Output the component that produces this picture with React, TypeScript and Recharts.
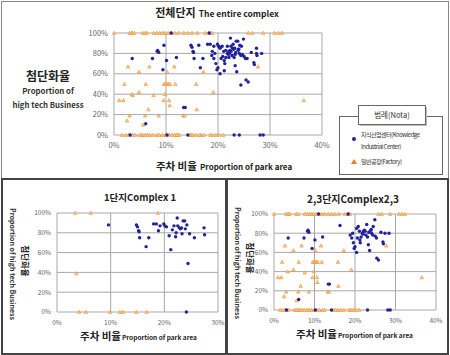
import { ScatterChart, Scatter, XAxis, YAxis, CartesianGrid } from "recharts";

// 1단지 (Complex 1): [parking %, high-tech %]
const c1Knowledge: number[][] = [
  [9.6, 88], [14.8, 88], [15.0, 86], [15.2, 82], [15.3, 81], [15.4, 75], [17.1, 75], [16.6, 66],
  [18.0, 89], [18.5, 89], [19.2, 87], [18.9, 82], [19.9, 89], [20.1, 87], [20.4, 86], [20.9, 77],
  [21.2, 63], [21.5, 83], [21.8, 87], [22.1, 76], [22.4, 95], [22.5, 87], [22.2, 80], [22.8, 85],
  [23.0, 84], [23.5, 92], [23.8, 92], [23.3, 79], [23.9, 84], [24.2, 88], [24.4, 49], [24.7, 79],
  [25.6, 75], [27.4, 85], [27.5, 78], [24.1, 0], [23.2, 85],
];
const c1Factory: number[][] = [
  [3.4, 100], [6.3, 100], [18.8, 100], [3.6, 39], [4.1, 0], [5.4, 0], [9.9, 0], [11.7, 0],
  [12.3, 0], [14.8, 0], [16.7, 0],
];

// 2,3단지 (Complex 2,3)
const c23Knowledge: number[][] = [
  [3.5, 75], [7.4, 75], [8.3, 82], [8.6, 81], [8.4, 83], [9.4, 64], [10.1, 73], [12.0, 76],
  [16.3, 88], [13.4, 27], [13.7, 27], [6.1, 11], [18.8, 78], [19.2, 75], [19.6, 70], [19.8, 64],
  [20.0, 66], [20.4, 60], [20.4, 85], [20.8, 87], [21.1, 82], [21.2, 73], [21.5, 76], [21.8, 80],
  [22.1, 82], [22.3, 83], [22.5, 82], [22.9, 89], [23.1, 76], [23.3, 68], [23.6, 62], [23.9, 83],
  [24.1, 80], [24.4, 78], [24.5, 87], [24.9, 94], [25.0, 77], [25.4, 54], [25.8, 52], [26.4, 81],
  [26.9, 71], [27.0, 69], [27.4, 80], [28.4, 80], [22.0, 79], [23.4, 81], [24.0, 84], [22.7, 78],
  [21.3, 70], [20.6, 75], [25.3, 75], [19.4, 80], [11.0, 100], [18.3, 100],
  [3.1, 0], [10.2, 0], [14.2, 0], [23.1, 0], [28.1, 0], [28.7, 0],
];
const c23Factory: number[][] = [
  [0, 100], [3.0, 100], [3.5, 100], [3.9, 100], [5.5, 100], [6.0, 100], [7.6, 100], [8.2, 100],
  [8.8, 100], [9.3, 100], [9.8, 100], [10.4, 100], [11.0, 100], [11.7, 100], [12.4, 100],
  [13.4, 100], [14.2, 100], [15.0, 100], [16.0, 100], [17.5, 100], [18.3, 100], [18.8, 100],
  [25.8, 100], [26.6, 100], [28.7, 100], [30.9, 100], [31.6, 100], [32.3, 100],
  [1.5, 0], [2.2, 0], [2.8, 0], [3.6, 0], [5.0, 0], [5.5, 0], [6.0, 0], [6.4, 0], [6.9, 0],
  [7.5, 0], [8.2, 0], [8.7, 0], [9.3, 0], [9.9, 0], [10.6, 0], [11.2, 0], [12.0, 0], [12.5, 0],
  [14.6, 0], [15.2, 0], [15.8, 0], [16.5, 0], [17.3, 0], [18.5, 0], [19.0, 0], [19.6, 0],
  [20.2, 0], [21.0, 0],
  [2.0, 50], [1.0, 34], [1.8, 34], [2.7, 67], [3.4, 40], [3.0, 19], [2.5, 14], [4.8, 62],
  [4.8, 42], [6.1, 50], [6.8, 67], [6.6, 25], [6.0, 19], [5.6, 10], [7.6, 39], [8.6, 19],
  [9.5, 34], [9.8, 40], [10.2, 62], [9.6, 50], [9.9, 50], [10.2, 50], [10.5, 50], [10.8, 50],
  [10.6, 34], [10.7, 29], [11.6, 67], [11.8, 50], [13.3, 19], [13.6, 19], [15.8, 50],
  [15.9, 25], [17.2, 62], [19.1, 42], [27.7, 67], [36.5, 34],
];

const yTicks = [0, 20, 40, 60, 80, 100];
const xTicksAll = [0, 10, 20, 30, 40];
const xTicksC1 = [0, 10, 20, 30];

const FONT = '"Noto Sans CJK KR", "Noto Sans", sans-serif';
const BLUE = "#22229a";

const toPts = (a: number[][]) => a.map(([x, y]) => ({ x, y }));

const Dot = (p: any) => <circle cx={p.cx} cy={p.cy} r={1.7} fill={BLUE} />;
const Tri = (p: any) => {
  const s = 1.7;
  return (
    <path
      d={`M${p.cx},${p.cy - s} L${p.cx + s},${p.cy + s * 0.8} L${p.cx - s},${p.cy + s * 0.8}Z`}
      fill="#fbd8a6"
      stroke="#ee9232"
      strokeWidth={0.7}
    />
  );
};

function Plot(props: {
  width: number;
  height: number;
  margin: any;
  xMax: number;
  xTicks: number[];
  fontSize: number;
  knowledge: number[][];
  factory: number[][];
}) {
  return (
    <ScatterChart width={props.width} height={props.height} margin={props.margin}>
      <CartesianGrid stroke="#a8a8a8" horizontal vertical />
      <XAxis
        type="number"
        dataKey="x"
        domain={[0, props.xMax]}
        ticks={props.xTicks}
        tickFormatter={(v) => `${v}%`}
        axisLine={false}
        tickLine={false}
        tick={{ fontSize: props.fontSize, fill: "#666", fontFamily: FONT }}
        height={18}
        tickMargin={2}
        interval={0}
      />
      <YAxis
        type="number"
        dataKey="y"
        domain={[0, 100]}
        ticks={yTicks}
        tickFormatter={(v) => `${v}%`}
        axisLine={false}
        tickLine={false}
        tick={{ fontSize: props.fontSize, fill: "#666", fontFamily: FONT }}
        width={30}
        tickSize={4}
        tickMargin={2}
        interval={0}
      />
      <Scatter data={toPts(props.factory)} shape={Tri} isAnimationActive={false} />
      <Scatter data={toPts(props.knowledge)} shape={Dot} isAnimationActive={false} />
    </ScatterChart>
  );
}

const abs = (l: number, t: number, w: number, h: number, extra: any = {}) => ({
  position: "absolute" as const,
  left: l,
  top: t,
  width: w,
  height: h,
  boxSizing: "border-box" as const,
  ...extra,
});

export default function App() {
  return (
    <div style={{ position: "absolute", left: 0, top: 0, width: 450, height: 355, background: "#fff", fontFamily: FONT }}>
      <div style={abs(1, 1, 448, 178, { border: "1px solid #888" })} />
      <div style={abs(1, 178, 226, 177, { border: "2px solid #444" })} />
      <div style={abs(226, 178, 223, 177, { border: "2px solid #444" })} />

      <div style={abs(0, 0, 450, 180)}>
        <Plot
          width={450}
          height={180}
          margin={{ top: 33, right: 128, left: 84, bottom: 27 }}
          xMax={40}
          xTicks={xTicksAll}
          fontSize={7.5}
          knowledge={[...c1Knowledge, ...c23Knowledge]}
          factory={[...c1Factory, ...c23Factory]}
        />
      </div>
      <div style={abs(0, 180, 225, 160)}>
        <Plot
          width={225}
          height={160}
          margin={{ top: 33, right: 7, left: 27, bottom: 10 }}
          xMax={30}
          xTicks={xTicksC1}
          fontSize={6.5}
          knowledge={c1Knowledge}
          factory={c1Factory}
        />
      </div>
      <div style={abs(228, 180, 220, 160)}>
        <Plot
          width={220}
          height={160}
          margin={{ top: 34, right: 12, left: 16, bottom: 12 }}
          xMax={40}
          xTicks={xTicksAll}
          fontSize={6.5}
          knowledge={c23Knowledge}
          factory={c23Factory}
        />
      </div>

      <svg width={450} height={355} style={{ position: "absolute", left: 0, top: 0, pointerEvents: "none" }} fontFamily={FONT}>
        {/* top panel texts */}
        <text x={217} y={17} textAnchor="middle" fill="#222" fontWeight="bold">
          <tspan fontSize={11}>전체단지</tspan>
          <tspan fontSize={8.5} dx={3}>The entire complex</tspan>
        </text>
        <text x={48} y={81} textAnchor="middle" fontSize={12} fontWeight="bold" fill="#222">첨단화율</text>
        <text x={48} y={94} textAnchor="middle" fontSize={7.8} fontWeight="bold" fill="#333">Proportion of</text>
        <text x={48} y={108} textAnchor="middle" fontSize={7.8} fontWeight="bold" fill="#333">high tech Business</text>
        <text x={224} y={170} textAnchor="middle" fill="#222" fontWeight="bold">
          <tspan fontSize={10.5}>주차 비율</tspan>
          <tspan fontSize={8} dx={3}>Proportion of park area</tspan>
        </text>

        {/* legend */}
        <rect x={339.5} y={116.5} width={103} height={58} fill="#fff" stroke="#666" />
        <rect x={360} y={107} width={67} height={19} fill="#bbb" />
        <rect x={358.5} y={105.5} width={67} height={19} fill="#fff" stroke="#666" />
        <text x={392} y={118} textAnchor="middle" fontSize={7.5} fill="#333">범례(Nota)</text>
        <circle cx={354} cy={139} r={2} fill={BLUE} />
        <text x={361} y={137} fontSize={6} fill="#333" letterSpacing={-0.5}>지식산업센터(Knowledge</text>
        <text x={361} y={149} fontSize={6} fill="#333" letterSpacing={-0.5}>Industrial Center)</text>
        <path d="M354,159 L357,164 L351,164Z" fill="#e8801a" />
        <text x={361} y={164} fontSize={6} fill="#333" letterSpacing={-0.5}>일반공장(Factory)</text>

        {/* bottom-left texts */}
        <text x={140} y={201} textAnchor="middle" fontSize={9.5} fontWeight="bold" fill="#222">1단지Complex 1</text>
        <text transform="translate(10,264) rotate(90)" textAnchor="middle" fontSize={7} fontWeight="bold" fill="#333">Proportion of high tech Business</text>
        <text transform="translate(22,261) rotate(90)" textAnchor="middle" fontSize={8.5} fontWeight="bold" fill="#222">첨단화율</text>
        <text x={80} y={340} fill="#222" fontWeight="bold">
          <tspan fontSize={10.5}>주차 비율</tspan>
          <tspan fontSize={6.5} dx={1}>Proportion of park area</tspan>
        </text>

        {/* bottom-right texts */}
        <text x={353} y={203} textAnchor="middle" fontSize={10} fontWeight="bold" fill="#222">2,3단지Complex2,3</text>
        <text transform="translate(235,263) rotate(90)" textAnchor="middle" fontSize={7} fontWeight="bold" fill="#333">Proportion of high tech Business</text>
        <text transform="translate(247,258) rotate(90)" textAnchor="middle" fontSize={8.5} fontWeight="bold" fill="#222">첨단화율</text>
        <text x={296} y={338} fill="#222" fontWeight="bold">
          <tspan fontSize={10.5}>주차 비율</tspan>
          <tspan fontSize={6.5} dx={1}>Proportion of park area</tspan>
        </text>
      </svg>
    </div>
  );
}
